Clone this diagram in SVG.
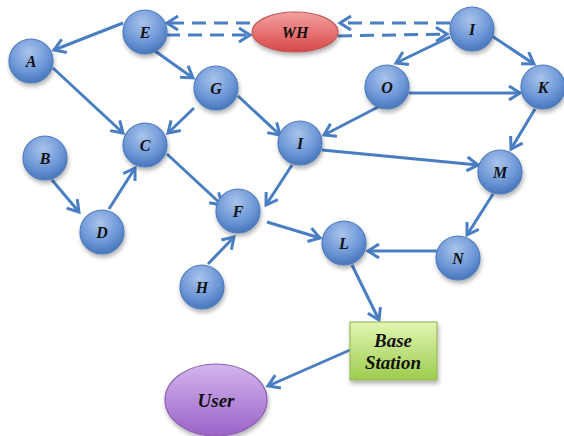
<svg xmlns="http://www.w3.org/2000/svg" width="564" height="436" viewBox="0 0 564 436">
<style>
.edge{stroke:#4a7ec2;stroke-width:3;fill:none;marker-end:url(#arr)}
.dash{stroke-dasharray:14 8}
.node circle{fill:url(#gBlue);stroke:#4f7cbc;stroke-width:1.2;filter:url(#sh)}
.lbl{font-family:"Liberation Serif",serif;font-weight:bold;font-style:italic;font-size:16px;fill:#111;text-anchor:middle;dominant-baseline:central}
.big{font-size:19px}
</style>
<defs>
<radialGradient id="gBlue" cx="0.45" cy="0.3" r="0.75">
<stop offset="0" stop-color="#a9c4ec"/>
<stop offset="0.6" stop-color="#6c96d6"/>
<stop offset="1" stop-color="#3f6fb5"/>
</radialGradient>
<linearGradient id="gRed" x1="0" y1="0" x2="0" y2="1">
<stop offset="0" stop-color="#f4a0a0"/>
<stop offset="1" stop-color="#d84848"/>
</linearGradient>
<linearGradient id="gPur" x1="0" y1="0" x2="0" y2="1">
<stop offset="0" stop-color="#d4b6ec"/>
<stop offset="1" stop-color="#9a62c8"/>
</linearGradient>
<linearGradient id="gGrn" x1="0" y1="0" x2="0" y2="1">
<stop offset="0" stop-color="#e2f6b2"/>
<stop offset="1" stop-color="#9ccc4e"/>
</linearGradient>
<filter id="sh" x="-30%" y="-30%" width="160%" height="170%">
<feDropShadow dx="1" dy="3" stdDeviation="2" flood-color="#000" flood-opacity="0.3"/>
</filter>
<marker id="arr" markerUnits="userSpaceOnUse" markerWidth="20" markerHeight="20" viewBox="-14 -10 18 20" refX="0" refY="0" orient="auto">
<path d="M-11,-7 L0,0 L-11,7" fill="none" stroke="#4a7ec2" stroke-width="3" stroke-linejoin="miter"/>
</marker>
</defs>
<g id="connectors">
<path class="edge dash" d="M250,23 L167,23"/>
<path class="edge dash" d="M166,35 L250,35"/>
<path class="edge dash" d="M450,23 L340,23"/>
<path class="edge dash" d="M338,36 L447,34"/>
<path class="edge" d="M123,23 L54,50"/>
<path class="edge" d="M155,51 L193,78"/>
<path class="edge" d="M53,68 L123,133"/>
<path class="edge" d="M194,108 L168,133"/>
<path class="edge" d="M238,96 L280,135"/>
<path class="edge" d="M52,180 L79,212"/>
<path class="edge" d="M109,209 L135,168"/>
<path class="edge" d="M167,154 L222,205"/>
<path class="edge" d="M292,165 L266,205"/>
<path class="edge" d="M208,264 L234,237"/>
<path class="edge" d="M267,222 L320,238"/>
<path class="edge" d="M322,150 L478,165"/>
<path class="edge" d="M380,106 L324,135"/>
<path class="edge" d="M450,37 L396,63"/>
<path class="edge" d="M492,36 L534,64"/>
<path class="edge" d="M409,93 L520,93"/>
<path class="edge" d="M535,109 L511,149"/>
<path class="edge" d="M493,194 L467,235"/>
<path class="edge" d="M437,251 L368,251"/>
<path class="edge" d="M352,265 L379,320"/>
<path class="edge" d="M350,350 L268,386"/>
</g>
<g id="A" class="node"><circle cx="31" cy="61" r="22"/><text class="lbl" x="31" y="61">A</text></g>
<g id="B" class="node"><circle cx="45" cy="158" r="22"/><text class="lbl" x="45" y="158">B</text></g>
<g id="C" class="node"><circle cx="145" cy="145" r="22"/><text class="lbl" x="145" y="145">C</text></g>
<g id="D" class="node"><circle cx="102" cy="232" r="22"/><text class="lbl" x="102" y="232">D</text></g>
<g id="E" class="node"><circle cx="145" cy="32" r="22"/><text class="lbl" x="145" y="32">E</text></g>
<g id="F" class="node"><circle cx="238" cy="211" r="22"/><text class="lbl" x="238" y="211">F</text></g>
<g id="G" class="node"><circle cx="216" cy="88" r="22"/><text class="lbl" x="216" y="88">G</text></g>
<g id="H" class="node"><circle cx="202" cy="287" r="22"/><text class="lbl" x="202" y="287">H</text></g>
<g id="I1" class="node"><circle cx="472" cy="29" r="22"/><text class="lbl" x="472" y="29">I</text></g>
<g id="I2" class="node"><circle cx="300" cy="143" r="22"/><text class="lbl" x="300" y="143">I</text></g>
<g id="K" class="node"><circle cx="543" cy="87" r="22"/><text class="lbl" x="543" y="87">K</text></g>
<g id="L" class="node"><circle cx="344" cy="243" r="22"/><text class="lbl" x="344" y="243">L</text></g>
<g id="M" class="node"><circle cx="500" cy="172" r="22"/><text class="lbl" x="500" y="172">M</text></g>
<g id="N" class="node"><circle cx="458" cy="258" r="22"/><text class="lbl" x="458" y="258">N</text></g>
<g id="O" class="node"><circle cx="387" cy="87" r="22"/><text class="lbl" x="387" y="87">O</text></g>
<g id="WH"><ellipse cx="295" cy="32" rx="43" ry="20" fill="url(#gRed)" stroke="#c05a5a" stroke-width="1.2" filter="url(#sh)"/><text class="lbl" x="295" y="32">WH</text></g>
<g id="BaseStation"><rect x="350" y="322" width="87" height="58" fill="url(#gGrn)" stroke="#9cbc5c" stroke-width="1.2" filter="url(#sh)"/><text class="lbl big" x="393" y="340">Base</text><text class="lbl big" x="393" y="362">Station</text></g>
<g id="User"><ellipse cx="216" cy="400" rx="51" ry="36" fill="url(#gPur)" stroke="#8a62b2" stroke-width="1.2" filter="url(#sh)"/><text class="lbl big" x="216" y="400">User</text></g>
</svg>
